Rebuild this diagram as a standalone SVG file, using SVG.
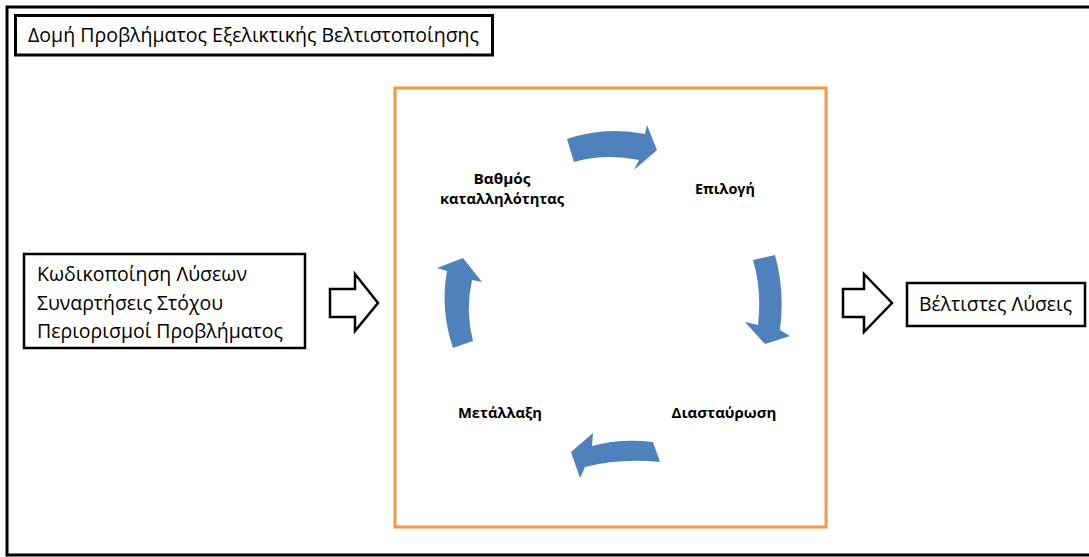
<svg xmlns="http://www.w3.org/2000/svg" width="1089" height="557" viewBox="0 0 1089 557">
<style>
.frame{fill:#fff;stroke:#000;stroke-width:3}
.box{fill:#fff;stroke:#000;stroke-width:2.5}
.txt{font-family:"Open Sans","Noto Sans",sans-serif;font-size:20px;fill:#000}
.lbl{font-family:"Open Sans","Noto Sans",sans-serif;font-size:14px;font-weight:bold;fill:#000;text-anchor:middle}
.hollow{fill:#fff;stroke:#000;stroke-width:2.5;stroke-linejoin:miter}
.cyc{fill:#4F81BD;stroke:none}
</style>
<rect width="1089" height="557" fill="#fff"/>
<g id="outer">
<rect class="frame" x="7" y="7" width="1090" height="548" stroke-width="3.5"/>
</g>
<g id="title">
<rect class="frame" x="15.5" y="15.5" width="477" height="39.5"/>
<text class="txt" x="28" y="42" textLength="451" lengthAdjust="spacingAndGlyphs">Δομή Προβλήματος Εξελικτικής Βελτιστοποίησης</text>
</g>
<g id="inputs">
<rect class="box" x="24" y="254" width="281" height="94"/>
<text class="txt" x="37" y="281" textLength="210" lengthAdjust="spacingAndGlyphs">Κωδικοποίηση Λύσεων</text>
<text class="txt" x="37" y="310" textLength="186" lengthAdjust="spacingAndGlyphs">Συναρτήσεις Στόχου</text>
<text class="txt" x="37" y="338" textLength="246" lengthAdjust="spacingAndGlyphs">Περιορισμοί Προβλήματος</text>
</g>
<g id="process">
<rect x="395" y="88" width="431" height="439" fill="none" stroke="#F79646" stroke-width="3"/>
</g>
<g id="fitness">
<text class="lbl" x="502" y="184" textLength="57" lengthAdjust="spacingAndGlyphs">Βαθμός</text>
<text class="lbl" x="502" y="204" textLength="124" lengthAdjust="spacingAndGlyphs">καταλληλότητας</text>
</g>
<g id="selection">
<text class="lbl" x="725" y="194" textLength="60" lengthAdjust="spacingAndGlyphs">Επιλογή</text>
</g>
<g id="crossover">
<text class="lbl" x="724" y="418" textLength="105" lengthAdjust="spacingAndGlyphs">Διασταύρωση</text>
</g>
<g id="mutation">
<text class="lbl" x="500" y="418" textLength="84" lengthAdjust="spacingAndGlyphs">Μετάλλαξη</text>
</g>
<g id="output">
<rect class="box" x="907" y="283" width="178" height="43"/>
<text class="txt" x="919" y="311" textLength="153" lengthAdjust="spacingAndGlyphs">Βέλτιστες Λύσεις</text>
</g>
<g id="connectors">
<path class="hollow" d="M330,289 L355,289 L355,274 L378,303 L355,331 L355,317 L330,317 Z"/>
<path class="hollow" d="M843,289 L864,289 L864,274 L892,303 L864,332 L864,317 L843,317 Z"/>
<path class="cyc" d="M567,139 Q605,126 645,134 L647,125 L657,150 L634,170 L639,160 Q605,153 574,162 Z"/>
<path class="cyc" d="M753,260 L775,255 Q785,290 780,330 L790,336 L765,344 L745,322 L758,325 Q762,290 753,260 Z"/>
<path class="cyc" d="M653,442 Q620,438 592,446 L593,433 L571,452 L580,478 L585,467 Q620,458 660,462 Z"/>
<path class="cyc" d="M453,348 Q440,310 447,271 L437,268 L463,258 L482,282 L472,280 Q465,310 473,341 Z"/>
</g>
</svg>
